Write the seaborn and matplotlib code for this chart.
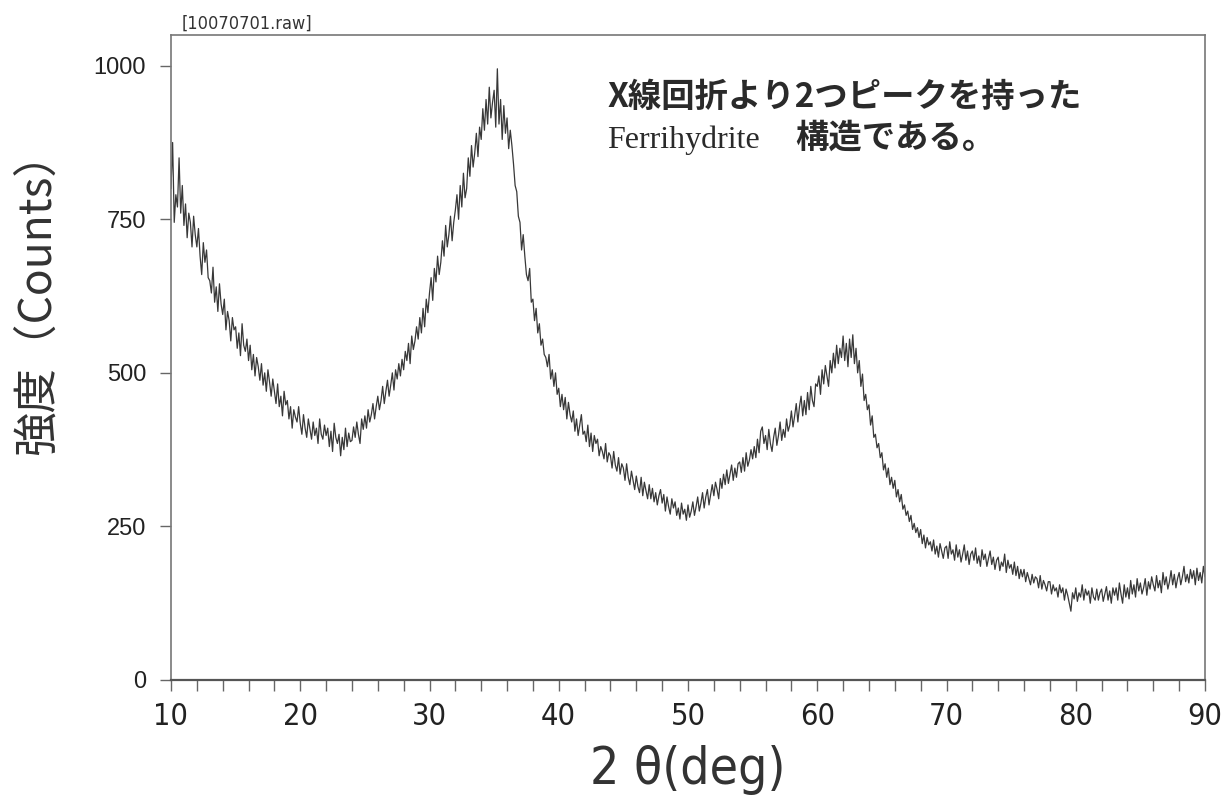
import numpy as np
import pandas as pd
import matplotlib
matplotlib.use("Agg")
import matplotlib.pyplot as plt
from matplotlib.ticker import MultipleLocator, FixedLocator
import seaborn as sns

# ---- data, 2theta from 10 to 90 deg in 0.125 deg steps ----
two_theta_start = 10.0
two_theta_step = 0.125
counts = [
    800, 875, 745, 790, 770, 850, 760, 805,   # 10
    740, 775, 720, 760, 745, 705, 755, 725,   # 11
    705, 735, 690, 660, 712, 680, 700, 655,   # 12
    650, 630, 672, 615, 640, 600, 645, 612,   # 13
    595, 620, 570, 600, 585, 552, 590, 570,   # 14
    575, 540, 565, 528, 580, 545, 535, 555,   # 15
    520, 545, 505, 530, 495, 525, 510, 488,   # 16
    515, 480, 500, 470, 505, 485, 462, 490,   # 17
    470, 450, 482, 445, 462, 430, 470, 448,   # 18
    455, 425, 445, 410, 440, 428, 420, 445,   # 19
    418, 400, 432, 410, 395, 425, 408, 392,   # 20
    420, 398, 410, 385, 425, 400, 392, 415,   # 21
    398, 410, 380, 405, 372, 418, 395, 385,   # 22
    400, 365, 395, 375, 410, 380, 402, 388,   # 23
    390, 412, 395, 420, 400, 385, 425, 408,   # 24
    430, 410, 440, 420, 432, 450, 425, 445,   # 25
    462, 440, 455, 478, 450, 470, 488, 462,   # 26
    480, 500, 472, 505, 490, 515, 495, 522,   # 27
    505, 535, 520, 548, 515, 560, 538, 552,   # 28
    575, 555, 590, 565, 605, 575, 620, 598,   # 29
    630, 655, 618, 670, 648, 690, 660, 680,   # 30
    715, 690, 740, 705, 725, 755, 715, 745,   # 31
    765, 790, 750, 805, 770, 825, 785, 800,   # 32
    850, 820, 870, 835, 858, 890, 852, 900,   # 33
    880, 930, 895, 945, 905, 965, 915, 940,   # 34
    960, 900, 995, 905, 945, 880, 935, 890,   # 35
    915, 865, 895, 870, 840, 805, 795, 755,   # 36
    745, 700, 725, 690, 660, 650, 670, 615,   # 37
    620, 585, 605, 565, 580, 545, 555, 530,   # 38
    525, 510, 530, 490, 505, 478, 500, 465,   # 39
    475, 445, 465, 440, 460, 425, 452, 432,   # 40
    420, 438, 405, 425, 398, 415, 432, 400,   # 41
    405, 388, 415, 380, 402, 372, 398, 385,   # 42
    392, 365, 380, 372, 360, 385, 355, 370,   # 43
    365, 345, 372, 350, 340, 362, 335, 352,   # 44
    345, 325, 352, 330, 318, 340, 325, 310,   # 45
    332, 315, 305, 330, 300, 322, 308, 295,   # 46
    318, 295, 312, 290, 305, 285, 300, 310,   # 47
    288, 302, 275, 298, 282, 270, 295, 280,   # 48
    290, 268, 280, 262, 288, 270, 278, 260,   # 49
    285, 265, 275, 290, 268, 282, 298, 275,   # 50
    288, 305, 280, 298, 310, 285, 302, 318,   # 51
    300, 322, 310, 295, 328, 312, 335, 318,   # 52
    342, 320, 335, 350, 325, 345, 330, 352,   # 53
    355, 338, 362, 340, 370, 348, 358, 375,   # 54
    360, 380, 362, 392, 370, 405, 412, 385,   # 55
    398, 375, 408, 385, 372, 395, 410, 382,   # 56
    398, 420, 390, 408, 395, 425, 405, 415,   # 57
    438, 412, 430, 450, 420, 445, 462, 430,   # 58
    455, 432, 468, 440, 478, 455, 445, 482,   # 59
    478, 495, 465, 505, 482, 512, 495, 478,   # 60
    520, 500, 532, 508, 545, 515, 540, 525,   # 61
    560, 520, 548, 510, 555, 525, 562, 515,   # 62
    540, 500, 520, 478, 498, 455, 465, 440,   # 63
    448, 415, 430, 395, 400, 378, 385, 362,   # 64
    370, 342, 352, 330, 345, 318, 330, 312,   # 65
    325, 298, 310, 290, 302, 278, 285, 268,   # 66
    275, 258, 268, 245, 255, 240, 248, 232,   # 67
    245, 222, 236, 215, 232, 220, 225, 210,   # 68
    228, 205, 218, 200, 222, 210, 198, 215,   # 69
    218, 198, 225, 205, 212, 195, 220, 200,   # 70
    212, 192, 205, 220, 195, 210, 188, 205,   # 71
    210, 195, 215, 190, 202, 185, 212, 196,   # 72
    205, 185, 198, 210, 188, 200, 180, 195,   # 73
    200, 178, 192, 185, 205, 175, 195, 182,   # 74
    188, 172, 192, 170, 185, 165, 180, 168,   # 75
    180, 160, 175, 165, 155, 172, 158, 168,   # 76
    165, 150, 170, 148, 162, 155, 145, 160,   # 77
    160, 140, 155, 145, 150, 135, 155, 142,   # 78
    150, 130, 148, 138, 125, 112, 142, 132,   # 79
    150, 128, 142, 135, 155, 130, 148, 138,   # 80
    145, 125, 150, 135, 130, 148, 130, 142,   # 81
    148, 128, 140, 152, 130, 145, 125, 150,   # 82
    138, 150, 130, 158, 140, 125, 155, 135,   # 83
    150, 132, 162, 140, 155, 135, 165, 145,   # 84
    158, 140, 150, 165, 138, 160, 148, 168,   # 85
    155, 145, 170, 150, 162, 142, 175, 155,   # 86
    168, 148, 160, 178, 155, 172, 150, 165,   # 87
    175, 155, 168, 185, 160, 172, 158, 180,   # 88
    165, 178, 155, 182, 162, 175, 158, 185,   # 89
    168,                                      # 90
]
two_theta = [two_theta_start + i * two_theta_step for i in range(len(counts))]

x_ticks = [10, 20, 30, 40, 50, 60, 70, 80, 90]
y_ticks = [0, 250, 500, 750, 1000]

file_label = "[10070701.raw]"
note_line1 = "X線回折より2つピークを持った"
note_line2_latin = "Ferrihydrite"
note_line2_jp = "構造である。"
y_label = "強度（Counts）"
x_label = "2 θ(deg)"

df = pd.DataFrame({"two_theta": two_theta, "counts": counts})

# ---- style ----
sns.set_theme(style="white")
plt.rcParams["font.family"] = ["Liberation Sans", "Noto Sans CJK JP", "DejaVu Sans"]

fig = plt.figure(figsize=(12.24, 7.97), dpi=100)
ax = fig.add_axes([171 / 1224, 1 - 680 / 797, (1205 - 171) / 1224, (680 - 35) / 797])

sns.lineplot(data=df, x="two_theta", y="counts", ax=ax, color="#383838",
             linewidth=0.9, estimator=None, sort=False)

ax.set_xlim(10, 90)
ax.set_ylim(0, 1050)

ax.xaxis.set_major_locator(FixedLocator(x_ticks))
ax.xaxis.set_minor_locator(MultipleLocator(2))
ax.yaxis.set_major_locator(FixedLocator(y_ticks))

for side in ["left", "right", "top", "bottom"]:
    ax.spines[side].set_color("#777777")
    ax.spines[side].set_linewidth(1.2)
ax.spines["bottom"].set_color("#555555")
ax.spines["bottom"].set_linewidth(1.6)

ax.tick_params(axis="x", which="both", direction="out", length=8, width=1,
               color="#666666", bottom=True, top=False, pad=8)
ax.tick_params(axis="y", which="major", direction="out", length=8, width=1,
               color="#666666", left=True, right=False, pad=10)

ax.set_xticklabels([str(v) for v in x_ticks],
                   fontdict={"family": ["DejaVu Sans"], "stretch": "condensed", "size": 22})
ax.set_yticklabels([str(v) for v in y_ticks],
                   fontdict={"family": ["Liberation Sans", "DejaVu Sans"], "size": 17})
for lab in ax.get_yticklabels():
    lab.set_color("#222222")
for lab in ax.get_xticklabels():
    lab.set_color("#222222")

ax.set_ylabel(y_label, family=["Noto Sans CJK JP", "DejaVu Sans"], fontsize=32, color="#333333")
ax.yaxis.set_label_coords(-0.130, 0.60)
ax.yaxis.label.set_va("center")

ax.set_xlabel(x_label, family=["DejaVu Sans"], stretch="condensed",
              fontsize=37, color="#333333")
ax.xaxis.label.set_va("baseline")
ax.xaxis.set_label_coords(0.5, (680 - 784) / 645)

ax.text(0.0106, 1.009, file_label, transform=ax.transAxes, fontsize=13,
        family=["DejaVu Sans"], stretch="condensed", color="#333333",
        va="baseline", ha="left")

ax.text((607 - 171) / 1034, (680 - 107) / 645, note_line1, transform=ax.transAxes,
        family=["Noto Sans CJK JP", "DejaVu Sans"], fontweight="bold", fontsize=24,
        color="#2a2a2a", va="baseline", ha="left")
ax.text((607 - 171) / 1034, (680 - 148) / 645, note_line2_latin, transform=ax.transAxes,
        family=["Liberation Serif", "DejaVu Serif"], fontsize=23,
        color="#2a2a2a", va="baseline", ha="left")
ax.text((795 - 171) / 1034, (680 - 148) / 645, note_line2_jp, transform=ax.transAxes,
        family=["Noto Sans CJK JP", "DejaVu Sans"], fontweight="bold", fontsize=24,
        color="#2a2a2a", va="baseline", ha="left")

fig.savefig("out.png", dpi=100, facecolor="white")
